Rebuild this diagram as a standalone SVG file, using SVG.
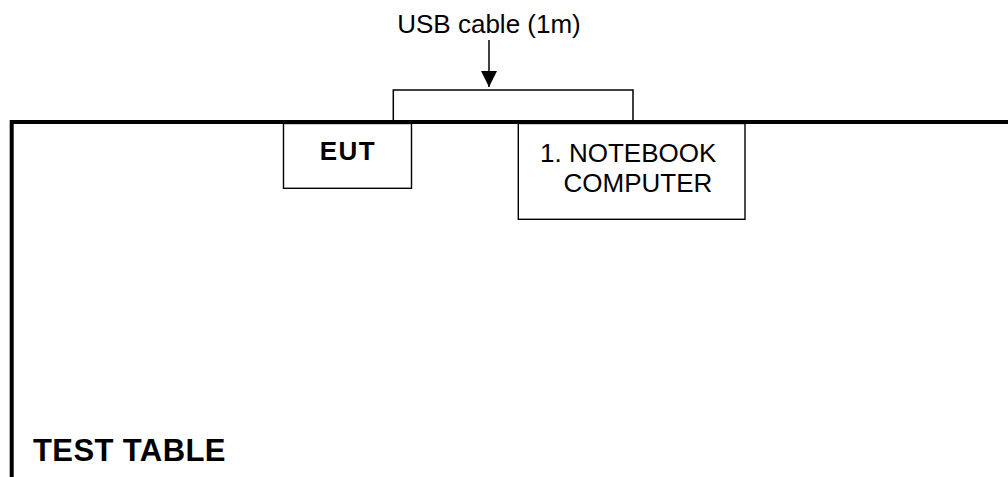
<svg xmlns="http://www.w3.org/2000/svg" width="1008" height="477" viewBox="0 0 1008 477">
  <style>
    .box { fill: #ffffff; stroke: #000000; stroke-width: 1.4; }
    .table { fill: none; stroke: #000000; stroke-width: 4; }
    .wire { fill: none; stroke: #000000; stroke-width: 1.5; }
    .lbl { font-family: "Liberation Sans", Arial, sans-serif; font-size: 26px; fill: #000000; }
    .bold { font-weight: bold; }
  </style>
  <defs>
    <marker id="arrowHead" markerUnits="userSpaceOnUse" markerWidth="16" markerHeight="16" viewBox="0 0 16 16" refX="16" refY="8" orient="auto">
      <path d="M0,0 L16,8 L0,16 Z" fill="#000000"/>
    </marker>
  </defs>

  <rect width="1008" height="477" fill="#ffffff"/>

  <!-- test table edge -->
  <g id="test-table">
    <path class="table" d="M11.7,477 V122 H1008"/>
    <text class="lbl bold" x="33" y="461" font-size="31" style="font-size:31px;letter-spacing:0.4px">TEST TABLE</text>
  </g>

  <!-- connectors -->
  <g id="connectors">
    <path class="wire" d="M393.3,120 V90 H633 V120"/>
    <line class="wire" x1="489" y1="40" x2="489" y2="87" marker-end="url(#arrowHead)"/>
    <text class="lbl" x="489" y="33" text-anchor="middle">USB cable (1m)</text>
  </g>

  <g id="eut">
    <rect class="box" x="283.5" y="123.5" width="128" height="64.8"/>
    <text class="lbl bold" x="348" y="160" text-anchor="middle" style="letter-spacing:1.5px">EUT</text>
  </g>

  <g id="notebook">
    <rect class="box" x="518.3" y="123.5" width="226.7" height="95.8"/>
    <text class="lbl" x="540" y="161.7">1. NOTEBOOK</text>
    <text class="lbl" x="563.5" y="192.3">COMPUTER</text>
  </g>
</svg>
